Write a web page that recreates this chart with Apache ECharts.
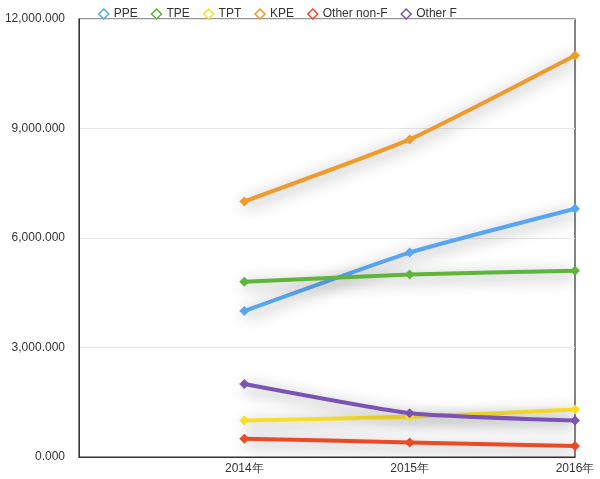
<!DOCTYPE html>
<html><head><meta charset="utf-8">
<script src="https://cdn.jsdelivr.net/npm/echarts@6/dist/echarts.min.js"></script>
<style>html,body{margin:0;padding:0;background:#fff}#c{width:600px;height:479px}</style>
</head><body><div id="c"></div>
<script>
const categories = ["", "2014年", "2015年", "2016年"];
const seriesNames = ["PPE", "TPE", "TPT", "KPE", "Other non-F", "Other F"];
const PPE = [null, 4000, 5600, 6800];
const TPE = [null, 4800, 5000, 5100];
const TPT = [null, 1000, 1100, 1300];
const KPE = [null, 7000, 8700, 11000];
const OtherNonF = [null, 500, 400, 300];
const OtherF = [null, 2000, 1200, 1000];
const yTicks = [0, 3000, 6000, 9000, 12000];

const colors = ["#58a6f2", "#5fb53c", "#f7de2c", "#ef9a2c", "#eb4a26", "#7c53b3"];
const dataList = [PPE, TPE, TPT, KPE, OtherNonF, OtherF];

const chart = echarts.init(document.getElementById('c'));
chart.setOption({
  animation: false,
  color: colors,
  textStyle: {fontFamily: 'Liberation Sans, Arial, sans-serif'},
  legend: {
    top: 3, left: 93, itemWidth: 10, itemHeight: 10, itemGap: 13,
    icon: 'path://M5,0 L10,5 L5,10 L0,5 Z',
    textStyle: {fontSize: 12, color: '#333'},
    data: seriesNames.map((n, i) => ({name: n, itemStyle: {color: 'transparent', borderColor: colors[i], borderWidth: 1.5}}))
  },
  grid: {left: 79, right: 25, top: 19, bottom: 22, show: true, borderColor: '#333', borderWidth: 1.2},
  xAxis: {
    type: 'category', data: categories, boundaryGap: false,
    axisLine: {lineStyle: {color: '#333'}}, axisTick: {show: false},
    axisLabel: {color: '#333', fontSize: 12, margin: 6, interval: 0, align: 'center'},
    splitLine: {show: false}
  },
  yAxis: {
    type: 'value', min: yTicks[0], max: yTicks[yTicks.length - 1], interval: 3000,
    axisLine: {show: true, lineStyle: {color: '#333'}}, axisTick: {show: false},
    axisLabel: {color: '#333', fontSize: 12, margin: 14,
      formatter: v => v.toLocaleString('en-US', {minimumFractionDigits: 3, maximumFractionDigits: 3})},
    splitLine: {lineStyle: {color: '#e6e6e6'}}
  },
  series: seriesNames.map((n, i) => ({
    name: n, type: 'line', data: dataList[i], symbol: 'diamond', symbolSize: 10,
    showSymbol: true, connectNulls: false, smooth: 0.15,
    lineStyle: {width: 4, color: colors[i], shadowBlur: 16, shadowColor: 'rgba(0,0,0,0.45)', shadowOffsetY: 4},
    itemStyle: {color: colors[i]}
  }))
});
</script></body></html>
